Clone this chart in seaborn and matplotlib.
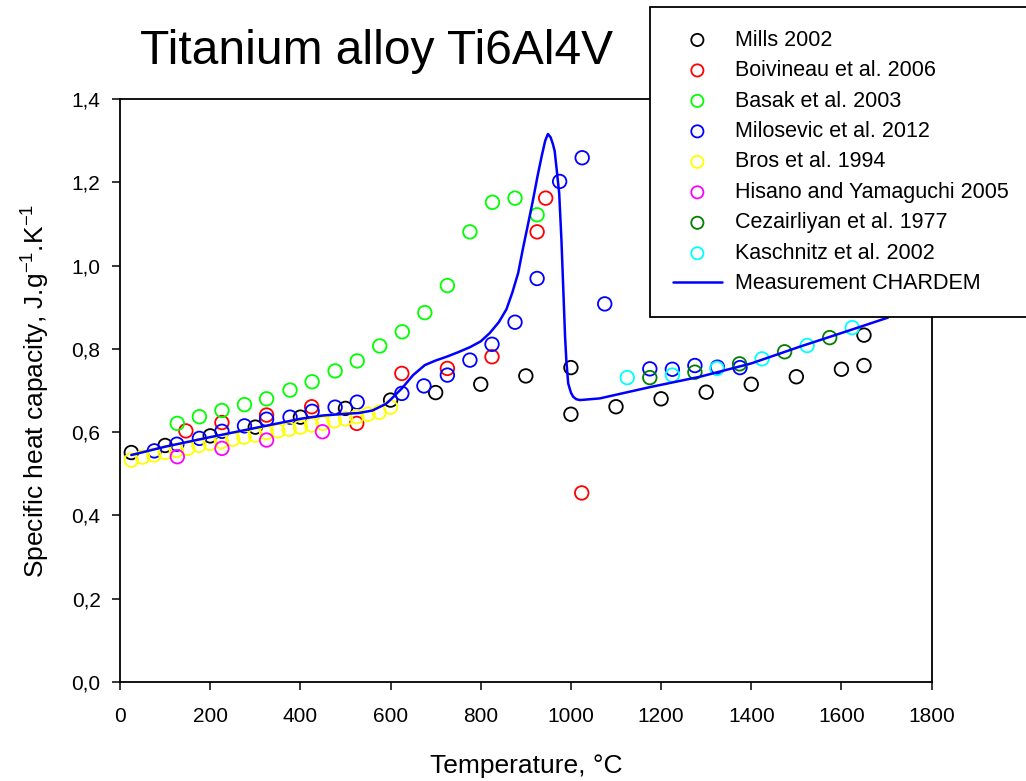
import numpy as np
import pandas as pd
import matplotlib
matplotlib.use("Agg")
import matplotlib.pyplot as plt
import seaborn as sns

# dados (temperatura em C, cp em J/g/K)
mills_t = [25, 100, 200, 300, 400, 500, 600, 700, 800, 900, 1000, 1000, 1100, 1200, 1300, 1400, 1500, 1600, 1650, 1650]
mills_cp = [0.551, 0.568, 0.591, 0.612, 0.636, 0.657, 0.677, 0.695, 0.715, 0.735, 0.755, 0.643, 0.661, 0.680, 0.696, 0.715, 0.733, 0.751, 0.760, 0.833]

boiv_t = [146, 226, 325, 425, 525, 625, 726, 825, 925, 944, 1024]
boiv_cp = [0.603, 0.623, 0.641, 0.661, 0.621, 0.741, 0.753, 0.781, 1.081, 1.162, 0.454]

basak_t = [127, 176, 226, 276, 325, 377, 426, 477, 526, 576, 626, 676, 726, 776, 826, 876, 925]
basak_cp = [0.621, 0.637, 0.652, 0.666, 0.680, 0.701, 0.721, 0.747, 0.771, 0.807, 0.841, 0.887, 0.952, 1.081, 1.152, 1.162, 1.122]

milo_t = [76, 126, 176, 226, 276, 325, 377, 426, 477, 526, 625, 674, 726, 776, 825, 876, 925, 975, 1025, 1075, 1175, 1225, 1275, 1325, 1375]
milo_cp = [0.555, 0.571, 0.585, 0.602, 0.615, 0.631, 0.636, 0.650, 0.660, 0.672, 0.693, 0.711, 0.737, 0.773, 0.811, 0.864, 0.969, 1.202, 1.259, 0.908, 0.752, 0.751, 0.760, 0.756, 0.755]

bros_t = [25, 50, 75, 100, 125, 150, 175, 200, 225, 250, 275, 300, 325, 350, 375, 400, 425, 450, 475, 500, 525, 550, 575, 600]
bros_cp = [0.533, 0.540, 0.545, 0.551, 0.556, 0.561, 0.568, 0.573, 0.577, 0.583, 0.588, 0.593, 0.599, 0.603, 0.607, 0.612, 0.617, 0.621, 0.627, 0.632, 0.637, 0.643, 0.648, 0.660]

hisano_t = [127, 226, 325, 449]
hisano_cp = [0.541, 0.561, 0.581, 0.601]

cezair_t = [1175, 1275, 1374, 1474, 1574]
cezair_cp = [0.731, 0.744, 0.764, 0.793, 0.827]

kasch_t = [1125, 1225, 1324, 1424, 1524, 1624]
kasch_cp = [0.731, 0.737, 0.753, 0.776, 0.808, 0.851]

# curva medida (CHARDEM)
chardem_t = [25, 100, 200, 300, 400, 450, 500, 530, 560, 590, 600, 625, 650, 676, 700, 724, 750, 776, 800, 820,
             840, 857, 870, 883, 894, 905, 916, 926, 935, 943, 949, 955, 960, 964, 969, 974, 979, 984, 987, 990,
             994, 1000, 1005, 1012, 1020, 1064, 1175, 1286, 1400, 1507, 1600, 1703]
chardem_cp = [0.545, 0.565, 0.588, 0.610, 0.632, 0.640, 0.644, 0.646, 0.652, 0.668, 0.678, 0.705, 0.737, 0.761, 0.772, 0.781, 0.792, 0.804, 0.818, 0.838,
              0.864, 0.895, 0.935, 0.982, 1.043, 1.100, 1.158, 1.215, 1.262, 1.300, 1.316, 1.308, 1.292, 1.275, 1.225, 1.174, 1.061, 0.917, 0.830, 0.770,
              0.717, 0.695, 0.685, 0.679, 0.677, 0.681, 0.708, 0.733, 0.765, 0.805, 0.838, 0.875]

series = [
    ("Mills 2002", mills_t, mills_cp, "black"),
    ("Boivineau et al. 2006", boiv_t, boiv_cp, "#ff0000"),
    ("Basak et al. 2003", basak_t, basak_cp, "#00ff00"),
    ("Milosevic et al. 2012", milo_t, milo_cp, "#0000ff"),
    ("Bros et al. 1994", bros_t, bros_cp, "#ffff00"),
    ("Hisano and Yamaguchi 2005", hisano_t, hisano_cp, "#ff00ff"),
    ("Cezairliyan et al. 1977", cezair_t, cezair_cp, "#008000"),
    ("Kaschnitz et al. 2002", kasch_t, kasch_cp, "#00ffff"),
]

xticks = [0, 200, 400, 600, 800, 1000, 1200, 1400, 1600, 1800]
yticks = [0.0, 0.2, 0.4, 0.6, 0.8, 1.0, 1.2, 1.4]
ytick_labels = ["0,0", "0,2", "0,4", "0,6", "0,8", "1,0", "1,2", "1,4"]

sns.set_style("ticks")
plt.rcParams['font.family'] = ['Liberation Sans', 'DejaVu Sans']
plt.rcParams['mathtext.default'] = 'regular'
plt.rcParams['text.color'] = 'black'
plt.rcParams['axes.labelcolor'] = 'black'
plt.rcParams['xtick.color'] = 'black'
plt.rcParams['ytick.color'] = 'black'

fig = plt.figure(figsize=(10.26, 7.81), dpi=100)
ax = fig.add_axes([0.117, 0.1268, 0.791, 0.7464])

for nome, t, cp, cor in series:
    sns.scatterplot(x=t, y=cp, ax=ax, marker='o', s=95, facecolor='none',
                    edgecolor=cor, linewidth=1.3, label=nome, zorder=3)

sns.lineplot(x=chardem_t, y=chardem_cp, ax=ax, color="#0000ff", lw=1.8,
             estimator=None, label="Measurement CHARDEM", zorder=4)

ax.set_xlim(0, 1800)
ax.set_ylim(0, 1.4)
ax.set_xticks(xticks)
ax.set_yticks(yticks, labels=ytick_labels)
ax.tick_params(direction='out', length=6, width=1.1, labelsize=15, colors='black')
ax.tick_params(axis='x', pad=12)
ax.tick_params(axis='y', pad=8)
for sp in ax.spines.values():
    sp.set_visible(True)
    sp.set_linewidth(1.3)
    sp.set_color('black')

ax.set_xlabel("Temperature, °C", fontsize=19, labelpad=20, color='black')
ax.set_ylabel("Specific heat capacity, J.g$^{-1}$.K$^{-1}$", fontsize=19, labelpad=14, color='black')

fig.text(376 / 1026, 1 - 52 / 781, "Titanium alloy Ti6Al4V", fontsize=34.5, ha='center', va='center', color='black')

leg = ax.legend(loc='upper left', bbox_to_anchor=(650 / 1026, 1 - 7 / 781), bbox_transform=fig.transFigure,
                borderaxespad=0, fontsize=15.5, frameon=True, fancybox=False, framealpha=1,
                edgecolor='black', handlelength=2.3, handletextpad=0.6, borderpad=1.05,
                labelspacing=0.44, markerscale=0.9)
leg.get_frame().set_linewidth(1.3)
for txt in leg.get_texts():
    txt.set_color('black')

fig.savefig("out.png", dpi=100)
